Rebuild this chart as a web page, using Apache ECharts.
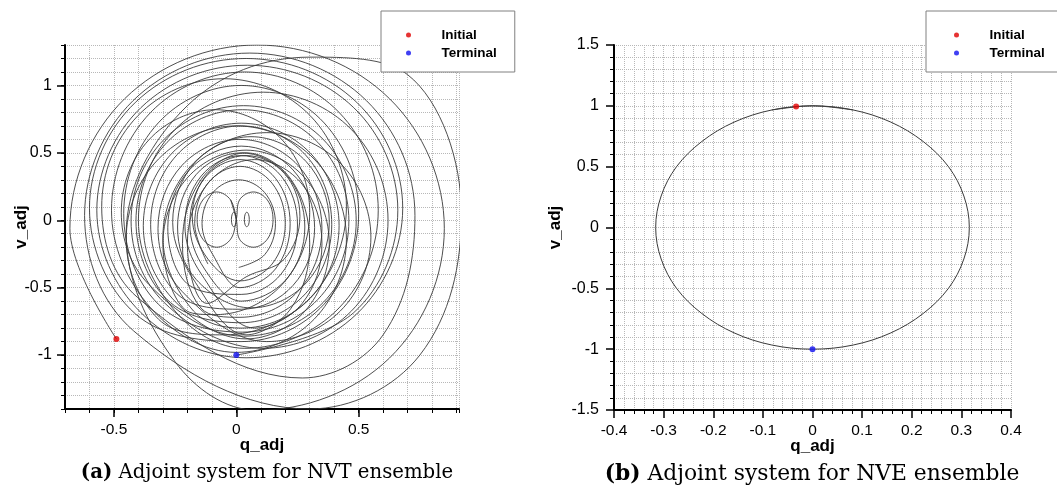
<!DOCTYPE html>
<html>
<head>
<meta charset="utf-8">
<script src="https://cdn.jsdelivr.net/npm/echarts@6/dist/echarts.min.js"></script>
<style>
html,body{margin:0;padding:0;background:#fff;}
#chart{width:1057px;height:493px;}
</style>
</head>
<body>
<div id="chart"></div>
<script>
// ---------- data ----------
// (a) NVT adjoint trajectory, [q_adj, v_adj] points; ['-','-'] marks a break
const nvtTrajectory = [
  [-0.49,-0.88],[-0.68,-0.06],[-0.456,0.902],[0.085,1.30],[0.626,0.902],[0.85,-0.06],[0.626,-1.022],[0.085,-1.41],
  [-0.25,-1.05],[-0.45,-0.1],[-0.2,0.85],[0.3,1.21],[0.7,1.08],[0.92,0.05],[0.75,-1.0],[0.3,-1.40],
  [-0.42,-0.82],[-0.62,0.035],[-0.422,0.887],[0.055,1.24],[0.532,0.887],[0.73,0.035],[0.6,-0.85],[0.27,-1.17],
  [-0.404,-0.572],[-0.55,0.1],[-0.404,0.772],[-0.05,1.05],[0.304,0.772],[0.45,0.1],[0.304,-0.572],[-0.05,-0.85],
  [-0.318,-0.734],[-0.45,-0.14],[-0.318,0.454],[0,0.70],[0.318,0.454],[0.45,-0.14],[0.318,-0.734],[0,-0.98],
  [-0.35,-0.65],[-0.51,0.075],[-0.35,0.80],[0.035,1.10],[0.42,0.80],[0.58,0.075],[0.42,-0.65],[0.035,-0.95],
  [-0.251,-0.672],[-0.40,0.0],[-0.251,0.672],[0.11,0.95],[0.471,0.672],[0.62,0.0],[0.471,-0.672],[0.11,-0.95],
  [-0.295,-0.61],[-0.43,-0.005],[-0.295,0.60],[0.03,0.85],[0.355,0.60],[0.49,-0.005],[0.355,-0.61],[0.03,-0.86],
  [-0.357,-0.477],[-0.47,0.06],[-0.357,0.597],[-0.085,0.82],[0.187,0.597],[0.30,0.06],[0.187,-0.477],[-0.085,-0.70],
  [-0.20,-0.675],[-0.30,-0.18],[-0.20,0.315],[0.04,0.52],[0.28,0.315],[0.38,-0.18],[0.28,-0.675],[0.04,-0.88],
  [-0.263,-0.577],[-0.38,-0.04],[-0.263,0.497],[0.02,0.72],[0.303,0.497],[0.42,-0.04],[0.303,-0.577],[0.02,-0.80],
  [-0.175,-0.673],[-0.3,-0.125],[-0.175,0.423],[0.125,0.65],[0.425,0.423],[0.55,-0.125],[0.425,-0.673],[0.125,-0.90],
  [-0.222,-0.527],[-0.32,-0.06],[-0.222,0.407],[0.015,0.60],[0.252,0.407],[0.35,-0.06],[0.252,-0.527],[0.015,-0.72],
  [-0.144,-0.652],[-0.22,-0.175],[-0.144,0.302],[0.04,0.50],[0.224,0.302],[0.30,-0.175],[0.224,-0.652],[0.04,-0.85],
  [-0.166,-0.464],[-0.26,-0.015],[-0.166,0.434],[0.06,0.62],[0.286,0.434],[0.38,-0.015],[0.286,-0.464],[0.06,-0.65],
  [-0.164,-0.439],[-0.24,-0.05],[-0.164,0.339],[0.02,0.50],[0.204,0.339],[0.28,-0.05],[0.204,-0.439],[0.02,-0.60],
  [-0.13,-0.361],[-0.19,-0.025],[-0.13,0.311],[0.015,0.45],[0.16,0.311],[0.22,-0.025],[0.16,-0.361],[0.015,-0.50],
  [-0.096,-0.255],[-0.14,-0.025],[-0.096,0.205],[0.01,0.30],[0.116,0.205],[0.16,-0.025],[0.116,-0.255],[0.01,-0.35],
  ['-','-'],
  [0,0.005],[-0.023,0.15],[-0.08,0.21],[-0.137,0.15],[-0.16,0.005],[-0.137,-0.14],[-0.08,-0.20],[-0.023,-0.14],
  [0,0.005],[0.013,0.15],[0.07,0.21],[0.127,0.15],[0.15,0.005],[0.127,-0.14],[0.07,-0.20],[0.013,-0.14],
  [0,0.005],[-0.023,0.15],
  ['-','-'],
  [-0.01,-0.05],[-0.017,-0.034],[-0.02,0.005],[-0.017,0.044],[-0.01,0.06],[-0.003,0.044],[0,0.005],[-0.003,-0.034],[-0.01,-0.05],
  ['-','-'],
  [0.043,-0.05],[0.036,-0.034],[0.033,0.005],[0.036,0.044],[0.043,0.06],[0.05,0.044],[0.053,0.005],[0.05,-0.034],[0.043,-0.05],
  ['-','-'],
  [-0.116,-0.325],[-0.17,-0.025],[-0.116,0.275],[0.015,0.40],[0.146,0.275],[0.20,-0.025],[0.146,-0.325],[0.015,-0.45],
  [-0.116,-0.288],[-0.18,0.03],[-0.116,0.348],[0.04,0.48],[0.196,0.348],[0.26,0.03],[0.196,-0.288],[0.04,-0.42],
  [-0.119,-0.617],[-0.20,-0.175],[-0.119,0.267],[0.075,0.45],[0.269,0.267],[0.35,-0.175],[0.269,-0.617],[0.075,-0.80],
  [-0.143,-0.399],[-0.21,-0.035],[-0.143,0.329],[0.02,0.48],[0.183,0.329],[0.25,-0.035],[0.183,-0.399],[0.02,-0.55],
  [-0.192,-0.483],[-0.28,-0.055],[-0.192,0.373],[0.02,0.55],[0.232,0.373],[0.32,-0.055],[0.232,-0.483],[0.02,-0.66],
  [-0.242,-0.546],[-0.35,-0.03],[-0.242,0.486],[0.02,0.70],[0.282,0.486],[0.39,-0.03],[0.282,-0.546],[0.02,-0.76],
  [-0.283,-0.588],[-0.41,-0.005],[-0.283,0.578],[0.025,0.82],[0.333,0.578],[0.46,-0.005],[0.333,-0.588],[0.025,-0.83],
  [-0.319,-0.622],[-0.46,0.05],[-0.319,0.722],[0.02,1.00],[0.359,0.722],[0.50,0.05],[0.359,-0.622],[0.02,-0.90],
  [-0.412,-0.695],[-0.60,0.09],[-0.412,0.875],[0.04,1.20],[0.492,0.875],[0.68,0.09],[0.492,-0.695],[0.04,-1.02],
  [-0.39,-0.685],[-0.57,0.075],[-0.39,0.835],[0.045,1.15],[0.48,0.835],[0.66,0.075],[0.48,-0.685],[0,-1.0]
];
const nvtInitial = [[-0.49, -0.88]];
const nvtTerminal = [[0, -1.0]];

// (b) NVE adjoint trajectory (closed ellipse)
const nveTrajectory = [
  [-0.082,0.966],[0,1.0],[0.082,0.966],[0.158,0.866],[0.223,0.707],[0.274,0.5],[0.305,0.259],[0.316,0],
  [0.305,-0.259],[0.274,-0.5],[0.223,-0.707],[0.158,-0.866],[0.082,-0.966],[0,-1.0],[-0.082,-0.966],
  [-0.158,-0.866],[-0.223,-0.707],[-0.274,-0.5],[-0.305,-0.259],[-0.316,0],[-0.305,0.259],[-0.274,0.5],
  [-0.223,0.707],[-0.158,0.866],[-0.082,0.966],[0,1.0],[0.082,0.966]
];
const nveInitial = [[-0.033, 0.995]];
const nveTerminal = [[0, -1.0]];

// tick labels
const nvtXTicks = [-0.5, 0, 0.5];
const nvtYTicks = [-1, -0.5, 0, 0.5, 1];
const legendNames = ['Initial', 'Terminal'];
const captions = ['{b|(a)} Adjoint system for NVT ensemble', '{b|(b)} Adjoint system for NVE ensemble'];
const axisNames = { x: 'q_adj', y: 'v_adj' };

// ---------- styles ----------
const SANS = 'Liberation Sans, Arial, Helvetica, sans-serif';
const SERIF = 'DejaVu Serif, Liberation Serif, serif';
const gridLine = { show: true, lineStyle: { type: 'dotted', color: '#b8b8b8', width: 1 } };
const axisLineStyle = { show: true, onZero: false, lineStyle: { color: '#000', width: 2 } };
const xLabelStyle = { fontFamily: SANS, fontSize: 15.5, color: '#000' };
const yLabelStyle = { fontFamily: SANS, fontSize: 16, color: '#000' };
const nameStyle = { fontFamily: SANS, fontSize: 17, fontWeight: 'bold', color: '#000' };

function legendBox(left, padLeft, iconW, padRight) {
  return {
    left: left, top: 11, orient: 'vertical', icon: 'circle',
    itemWidth: iconW, itemHeight: 5, itemGap: 4, symbolKeepAspect: true,
    padding: [17, padRight, 12, padLeft],
    borderColor: '#808080', borderWidth: 1, backgroundColor: '#fff',
    textStyle: { fontFamily: SANS, fontSize: 13.5, fontWeight: 'bold', color: '#000' },
    data: legendNames, selectedMode: false, z: 10
  };
}
function caption(text, center, size) {
  return { text: text, left: center, top: 463, textAlign: 'center', padding: 0,
    textStyle: { fontFamily: SERIF, fontSize: size, fontWeight: 'normal', color: '#000',
      rich: { b: { fontFamily: SERIF, fontSize: size, fontWeight: 'bold', color: '#000' } } } };
}

const chart = echarts.init(document.getElementById('chart'), null, { renderer: 'canvas' });
chart.setOption({
  animation: false,
  backgroundColor: '#fff',
  title: [ caption(captions[0], 267, 19.7), caption(captions[1], 812, 21.8) ],
  legend: [ legendBox(381, 25, 56, 18), legendBox(926, 28, 56, 30) ],
  grid: [
    { left: 65, top: 45, width: 394, height: 364, containLabel: false, outerBoundsMode: 'none' },
    { left: 614, top: 45, width: 397, height: 365, containLabel: false, outerBoundsMode: 'none' }
  ],
  xAxis: [
    { type: 'value', gridIndex: 0, position: 'bottom', min: -0.7, max: 0.91, interval: 0.1,
      name: axisNames.x, nameLocation: 'middle', nameGap: 28, nameTextStyle: nameStyle, nameMoveOverlap: false,
      axisLine: axisLineStyle, axisTick: { show: true, length: 4, lineStyle: { color: '#000', width: 1 } },
      axisLabel: Object.assign({ customValues: nvtXTicks, margin: 13 }, xLabelStyle),
      splitLine: gridLine },
    { type: 'value', gridIndex: 0, position: 'bottom', min: -0.7, max: 0.91,
      axisLine: { show: false, onZero: false },
      axisTick: { show: true, customValues: nvtXTicks, length: 8, lineStyle: { color: '#000', width: 1.5 } },
      axisLabel: { show: false }, splitLine: { show: false } },
    { type: 'value', gridIndex: 1, position: 'bottom', min: -0.4, max: 0.4, interval: 0.1,
      name: axisNames.x, nameLocation: 'middle', nameGap: 28, nameTextStyle: nameStyle, nameMoveOverlap: false,
      axisLine: axisLineStyle, axisTick: { show: true, length: 8, lineStyle: { color: '#000', width: 1.5 } },
      minorTick: { show: true, splitNumber: 5, length: 4, lineStyle: { color: '#000', width: 1 } },
      axisLabel: Object.assign({ margin: 13 }, xLabelStyle),
      splitLine: gridLine, minorSplitLine: gridLine }
  ],
  yAxis: [
    { type: 'value', gridIndex: 0, position: 'left', min: -1.4, max: 1.3, interval: 0.1,
      name: axisNames.y, nameLocation: 'middle', nameRotate: 90, nameGap: 35, nameTextStyle: nameStyle, nameMoveOverlap: false,
      axisLine: axisLineStyle, axisTick: { show: true, length: 4, lineStyle: { color: '#000', width: 1 } },
      axisLabel: Object.assign({ customValues: nvtYTicks, margin: 13 }, yLabelStyle),
      splitLine: gridLine },
    { type: 'value', gridIndex: 0, position: 'left', min: -1.4, max: 1.3,
      axisLine: { show: false, onZero: false },
      axisTick: { show: true, customValues: nvtYTicks, length: 8, lineStyle: { color: '#000', width: 1.5 } },
      axisLabel: { show: false }, splitLine: { show: false } },
    { type: 'value', gridIndex: 1, position: 'left', min: -1.5, max: 1.5, interval: 0.5,
      name: axisNames.y, nameLocation: 'middle', nameRotate: 90, nameGap: 50, nameTextStyle: nameStyle, nameMoveOverlap: false,
      axisLine: axisLineStyle, axisTick: { show: true, length: 8, lineStyle: { color: '#000', width: 1.5 } },
      minorTick: { show: true, splitNumber: 5, length: 4, lineStyle: { color: '#000', width: 1 } },
      axisLabel: Object.assign({ margin: 15 }, yLabelStyle),
      splitLine: gridLine, minorSplitLine: gridLine }
  ],
  series: [
    { type: 'line', name: 'NVT', xAxisIndex: 0, yAxisIndex: 0, data: nvtTrajectory,
      smooth: 0.37, symbol: 'none', showSymbol: false, clip: true, connectNulls: false,
      lineStyle: { color: '#3a3a3a', width: 0.9 }, z: 3 },
    { type: 'scatter', name: 'Initial', xAxisIndex: 0, yAxisIndex: 0, data: nvtInitial,
      symbol: 'circle', symbolSize: 6, itemStyle: { color: '#e00000' }, z: 5 },
    { type: 'scatter', name: 'Terminal', xAxisIndex: 0, yAxisIndex: 0, data: nvtTerminal,
      symbol: 'circle', symbolSize: 6, itemStyle: { color: '#1010f0' }, z: 5 },
    { type: 'line', name: 'NVE', xAxisIndex: 2, yAxisIndex: 2, data: nveTrajectory,
      smooth: 0.35, symbol: 'none', showSymbol: false, clip: true,
      lineStyle: { color: '#3a3a3a', width: 1 }, z: 3 },
    { type: 'scatter', name: 'Initial', xAxisIndex: 2, yAxisIndex: 2, data: nveInitial,
      symbol: 'circle', symbolSize: 6, itemStyle: { color: '#e00000' }, z: 5 },
    { type: 'scatter', name: 'Terminal', xAxisIndex: 2, yAxisIndex: 2, data: nveTerminal,
      symbol: 'circle', symbolSize: 6, itemStyle: { color: '#1010f0' }, z: 5 }
  ]
});
</script>
</body>
</html>
